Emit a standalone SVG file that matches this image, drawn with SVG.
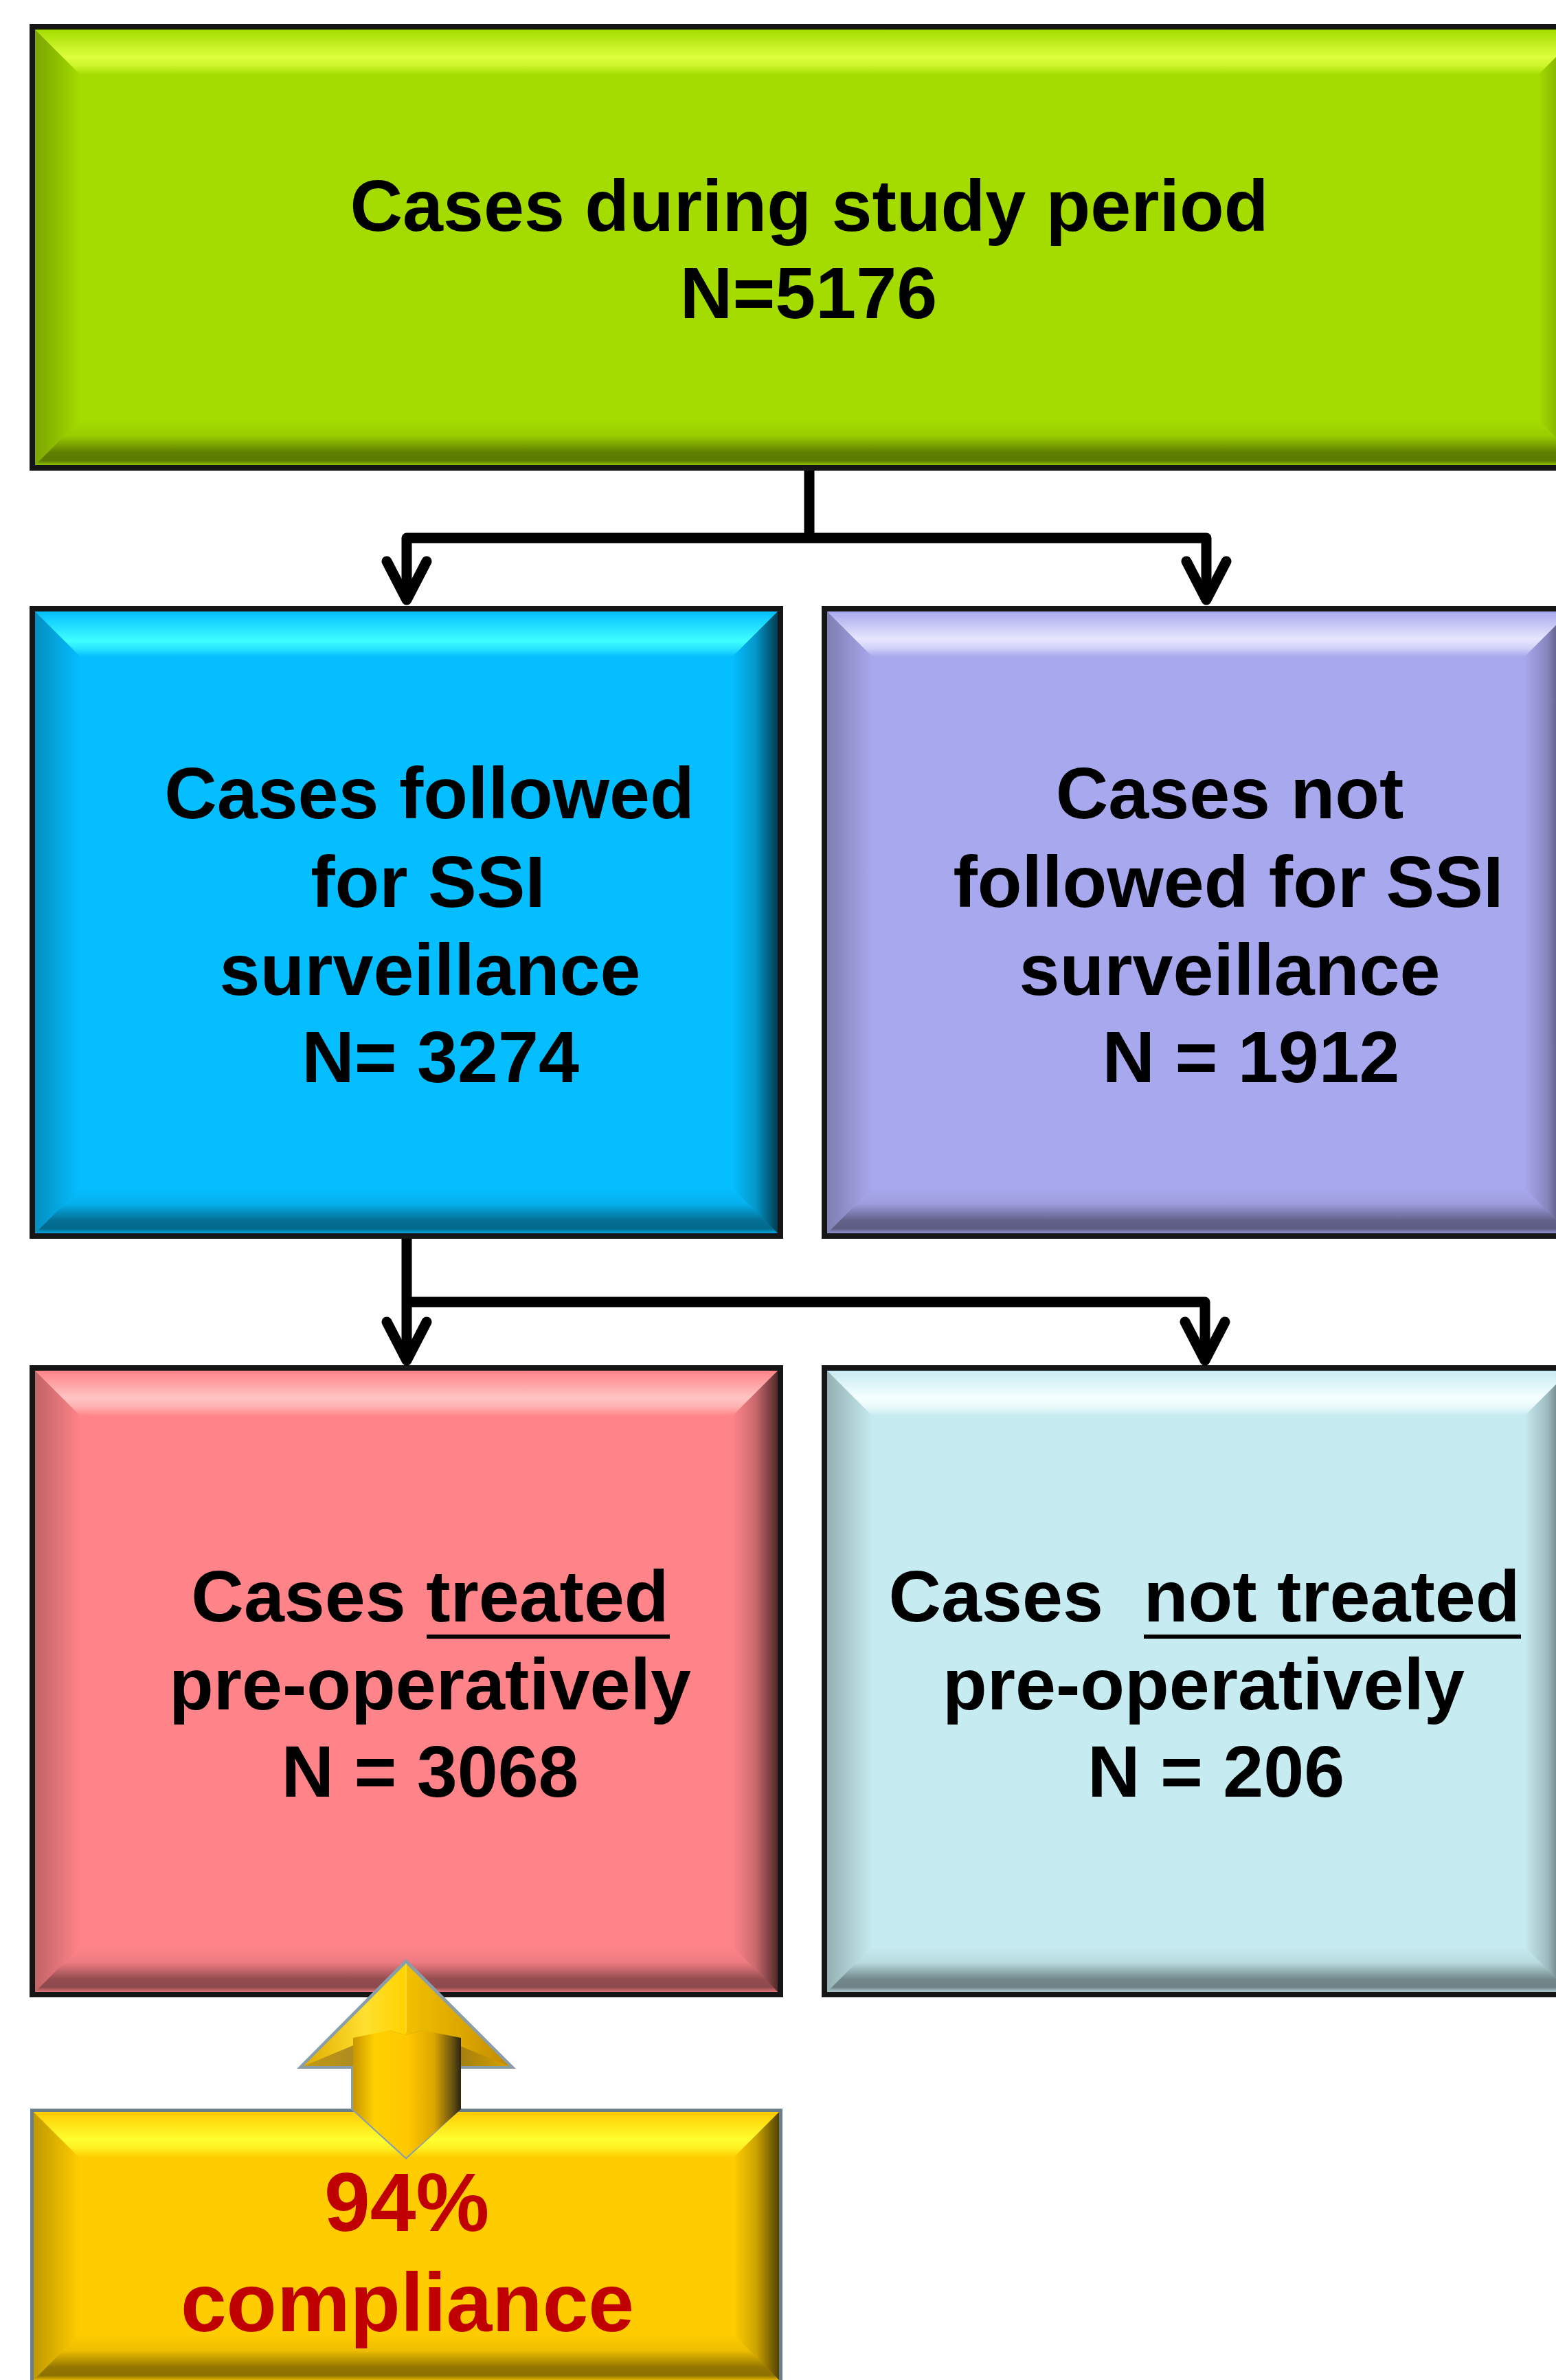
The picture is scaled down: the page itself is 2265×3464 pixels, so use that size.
<svg xmlns="http://www.w3.org/2000/svg" width="2265" height="3464" viewBox="0 0 2265 3464">
<style>
.t{font-family:"Liberation Sans",Arial,sans-serif;font-weight:bold;font-size:106px;fill:#000;text-anchor:middle}
.r{font-family:"Liberation Sans",Arial,sans-serif;font-weight:bold;font-size:120px;fill:#C00000;text-anchor:middle}
.bd{fill:none;stroke:#161616;stroke-width:8}
.ul{stroke:#000;stroke-width:6}
.cn{fill:none;stroke:#000;stroke-width:15;stroke-linejoin:round}
</style>
<defs>
<marker id="ah" markerUnits="userSpaceOnUse" orient="auto" overflow="visible" viewBox="-60 -60 120 120" markerWidth="120" markerHeight="120" refX="0" refY="0">
<path d="M-56,-29 L0,0 L-56,29" fill="none" stroke="#000" stroke-width="15" stroke-linecap="round" stroke-linejoin="round"/>
</marker>
<linearGradient id="shL" x1="0" y1="0" x2="1" y2="0"><stop offset="0" stop-color="#000" stop-opacity="0.25"/><stop offset="1" stop-color="#000" stop-opacity="0"/></linearGradient>
<linearGradient id="shR" x1="0" y1="0" x2="1" y2="0"><stop offset="0" stop-color="#000" stop-opacity="0"/><stop offset="0.5" stop-color="#000" stop-opacity="0.2"/><stop offset="1" stop-color="#000" stop-opacity="0.68"/></linearGradient>
<linearGradient id="shB" x1="0" y1="0" x2="0" y2="1"><stop offset="0" stop-color="#000" stop-opacity="0"/><stop offset="0.35" stop-color="#000" stop-opacity="0.07"/><stop offset="0.72" stop-color="#000" stop-opacity="0.42"/><stop offset="0.9" stop-color="#000" stop-opacity="0.45"/><stop offset="1" stop-color="#000" stop-opacity="0.12"/></linearGradient>
<linearGradient id="hlG" x1="0" y1="0" x2="0" y2="1"><stop offset="0" stop-color="#DCFF3C" stop-opacity="0"/><stop offset="0.6" stop-color="#DCFF3C" stop-opacity="1"/><stop offset="0.8" stop-color="#DCFF3C" stop-opacity="0.7"/><stop offset="1" stop-color="#DCFF3C" stop-opacity="0"/></linearGradient>
<linearGradient id="hlB" x1="0" y1="0" x2="0" y2="1"><stop offset="0" stop-color="#40FFFF" stop-opacity="0"/><stop offset="0.65" stop-color="#40FFFF" stop-opacity="1"/><stop offset="0.82" stop-color="#40FFFF" stop-opacity="0.6"/><stop offset="1" stop-color="#40FFFF" stop-opacity="0"/></linearGradient>
<linearGradient id="hlP" x1="0" y1="0" x2="0" y2="1"><stop offset="0" stop-color="#E6E6FF" stop-opacity="0"/><stop offset="0.6" stop-color="#E6E6FF" stop-opacity="1"/><stop offset="0.8" stop-color="#E6E6FF" stop-opacity="0.7"/><stop offset="1" stop-color="#E6E6FF" stop-opacity="0"/></linearGradient>
<linearGradient id="hlR" x1="0" y1="0" x2="0" y2="1"><stop offset="0" stop-color="#FFC4C4" stop-opacity="0"/><stop offset="0.6" stop-color="#FFC4C4" stop-opacity="1"/><stop offset="0.8" stop-color="#FFC4C4" stop-opacity="0.7"/><stop offset="1" stop-color="#FFC4C4" stop-opacity="0"/></linearGradient>
<linearGradient id="hlC" x1="0" y1="0" x2="0" y2="1"><stop offset="0" stop-color="#F6FFFF" stop-opacity="0"/><stop offset="0.6" stop-color="#F6FFFF" stop-opacity="1"/><stop offset="0.8" stop-color="#F6FFFF" stop-opacity="0.7"/><stop offset="1" stop-color="#F6FFFF" stop-opacity="0"/></linearGradient>
<linearGradient id="hlY" x1="0" y1="0" x2="0" y2="1"><stop offset="0" stop-color="#FFFF30" stop-opacity="0"/><stop offset="0.6" stop-color="#FFFF30" stop-opacity="1"/><stop offset="0.8" stop-color="#FFFF30" stop-opacity="0.7"/><stop offset="1" stop-color="#FFFF30" stop-opacity="0"/></linearGradient>
<linearGradient id="arHead" x1="0" y1="0" x2="1" y2="0"><stop offset="0" stop-color="#E0AC00"/><stop offset="0.3" stop-color="#FFE030"/><stop offset="0.5" stop-color="#FFD200"/><stop offset="0.5" stop-color="#F2C000"/><stop offset="0.8" stop-color="#D9A400"/><stop offset="1" stop-color="#C08A00"/></linearGradient>
<linearGradient id="arShade" x1="0" y1="0" x2="1" y2="0"><stop offset="0" stop-color="#C09418"/><stop offset="0.3" stop-color="#9A7A20"/><stop offset="0.7" stop-color="#8A6A18"/><stop offset="1" stop-color="#D8A400"/></linearGradient>
<linearGradient id="arShaft" x1="0" y1="0" x2="1" y2="0"><stop offset="0" stop-color="#C89600"/><stop offset="0.2" stop-color="#FFD000"/><stop offset="0.5" stop-color="#FFC800"/><stop offset="0.75" stop-color="#DDA600"/><stop offset="0.92" stop-color="#6A5410"/><stop offset="1" stop-color="#2A2410"/></linearGradient>
</defs>

<g id="node-total">
<rect x="47" y="39" width="2262" height="642" fill="#A4DC00"/>
<polygon points="51,43 2305,43 2239,109 117,109" fill="url(#hlG)"/>
<polygon points="51,43 117,109 117,611 51,677" fill="url(#shL)"/>
<polygon points="2305,43 2305,677 2239,611 2239,109" fill="url(#shR)"/>
<polygon points="51,677 117,611 2239,611 2305,677" fill="url(#shB)"/>
<rect class="bd" x="47" y="39" width="2262" height="642"/>
<text class="t" x="1178" y="336">Cases during study period</text>
<text class="t" x="1177" y="463">N=5176</text>
</g>

<g id="node-followed">
<rect x="47" y="886" width="1089" height="913" fill="#05BEFF"/>
<polygon points="51,890 1132,890 1066,956 117,956" fill="url(#hlB)"/>
<polygon points="51,890 117,956 117,1729 51,1795" fill="url(#shL)"/>
<polygon points="1132,890 1132,1795 1066,1729 1066,956" fill="url(#shR)"/>
<polygon points="51,1795 117,1729 1066,1729 1132,1795" fill="url(#shB)"/>
<rect class="bd" x="47" y="886" width="1089" height="913"/>
<text class="t" x="625" y="1191">Cases followed</text>
<text class="t" x="623" y="1320">for SSI</text>
<text class="t" x="626" y="1448">surveillance</text>
<text class="t" x="641" y="1575">N= 3274</text>
</g>

<g id="node-not-followed">
<rect x="1200" y="886" width="1089" height="913" fill="#A8A8EE"/>
<polygon points="1204,890 2285,890 2219,956 1270,956" fill="url(#hlP)"/>
<polygon points="1204,890 1270,956 1270,1729 1204,1795" fill="url(#shL)"/>
<polygon points="2285,890 2285,1795 2219,1729 2219,956" fill="url(#shR)"/>
<polygon points="1204,1795 1270,1729 2219,1729 2285,1795" fill="url(#shB)"/>
<rect class="bd" x="1200" y="886" width="1089" height="913"/>
<text class="t" x="1790" y="1191">Cases not</text>
<text class="t" x="1788" y="1320">followed for SSI</text>
<text class="t" x="1790" y="1448">surveillance</text>
<text class="t" x="1821" y="1575">N = 1912</text>
</g>

<g id="node-treated">
<rect x="47" y="1991" width="1089" height="912" fill="#FF8489"/>
<polygon points="51,1995 1132,1995 1066,2061 117,2061" fill="url(#hlR)"/>
<polygon points="51,1995 117,2061 117,2833 51,2899" fill="url(#shL)"/>
<polygon points="1132,1995 1132,2899 1066,2833 1066,2061" fill="url(#shR)"/>
<polygon points="51,2899 117,2833 1066,2833 1132,2899" fill="url(#shB)"/>
<rect class="bd" x="47" y="1991" width="1089" height="912"/>
<text class="t" x="626" y="2360">Cases treated</text>
<line class="ul" x1="621" y1="2382" x2="975" y2="2382"/>
<text class="t" x="626" y="2488">pre-operatively</text>
<text class="t" x="626" y="2615">N = 3068</text>
</g>

<g id="node-not-treated">
<rect x="1200" y="1991" width="1089" height="912" fill="#C6EBF0"/>
<polygon points="1204,1995 2285,1995 2219,2061 1270,2061" fill="url(#hlC)"/>
<polygon points="1204,1995 1270,2061 1270,2833 1204,2899" fill="url(#shL)"/>
<polygon points="2285,1995 2285,2899 2219,2833 2219,2061" fill="url(#shR)"/>
<polygon points="1204,2899 1270,2833 2219,2833 2285,2899" fill="url(#shB)"/>
<rect class="bd" x="1200" y="1991" width="1089" height="912"/>
<text class="t" x="1753" y="2360" xml:space="preserve">Cases  not treated</text>
<line class="ul" x1="1665" y1="2382" x2="2214" y2="2382"/>
<text class="t" x="1752" y="2488">pre-operatively</text>
<text class="t" x="1770" y="2615">N = 206</text>
</g>

<g id="node-compliance">
<rect x="46.5" y="3071.5" width="1090" height="400" fill="#FFCC00"/>
<polygon points="49,3074 1134,3074 1068,3140 115,3140" fill="url(#hlY)"/>
<polygon points="49,3074 115,3140 115,3398 49,3464" fill="url(#shL)"/>
<polygon points="1134,3074 1134,3464 1068,3398 1068,3140" fill="url(#shR)"/>
<polygon points="49,3464 115,3398 1068,3398 1134,3464" fill="url(#shB)"/>
<rect x="46.5" y="3071.5" width="1090" height="400" fill="none" stroke="#6B7F8A" stroke-width="5"/>
<text class="r" x="592" y="3247">94%</text>
<text class="r" x="593" y="3393">compliance</text>
</g>

<g id="connectors">
<path class="cn" d="M1178,685 V783"/>
<path class="cn" d="M1178,783 H592 V873" marker-end="url(#ah)"/>
<path class="cn" d="M1178,783 H1756 V873" marker-end="url(#ah)"/>
<path class="cn" d="M592,1803 V1980" marker-end="url(#ah)"/>
<path class="cn" d="M592,1895 H1754 V1980" marker-end="url(#ah)"/>
</g>

<g id="compliance-arrow">
<polygon points="591,2851 751,3011 671,3011 671,3070 591,3143 511,3070 511,3011 432,3011" fill="#8A9EAA"/>
<polygon points="591,2858 741,3007 442,3007" fill="url(#arHead)"/>
<polygon points="447,3005 567,2955 591,2962 615,2955 735,3005 741,3007 442,3007" fill="url(#arShade)" opacity="0.85"/>
<polygon points="514,2966 567,2955 591,2962 615,2955 671,2966 671,3070 591,3140 514,3070" fill="url(#arShaft)"/>
<line x1="591" y1="2858" x2="591" y2="2958" stroke="#FFE64A" stroke-width="2" opacity="0.6"/>
</g>
</svg>
